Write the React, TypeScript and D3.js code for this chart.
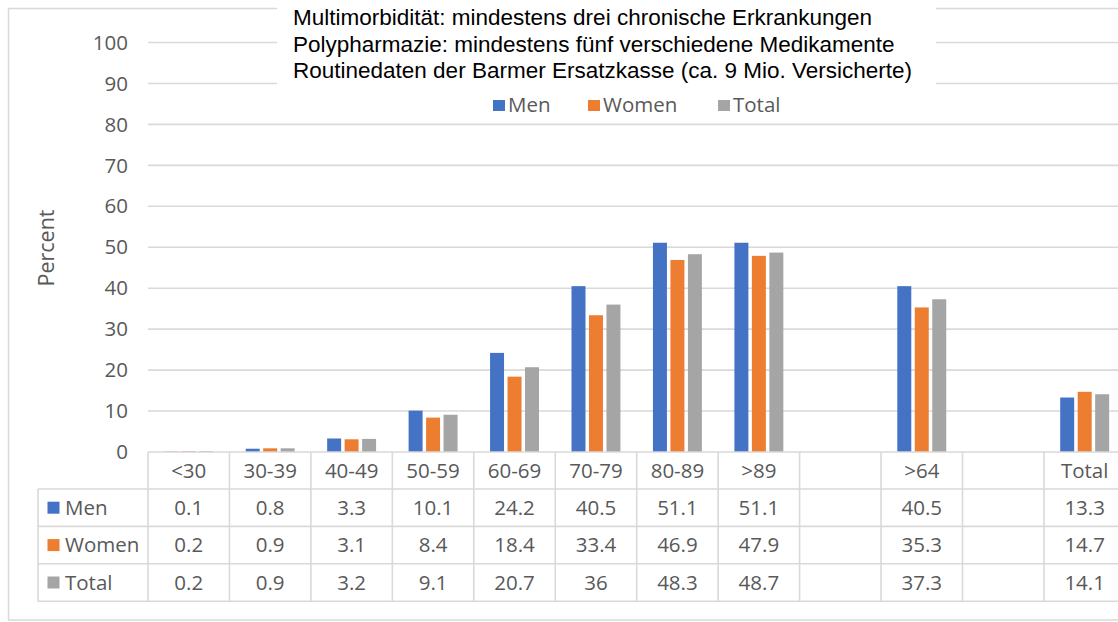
import React from 'react';
import * as d3 from 'd3';

// age groups; the two empty entries are spacer columns in the original table
const categories = ['<30', '30-39', '40-49', '50-59', '60-69', '70-79', '80-89', '>89', '', '>64', '', 'Total'];
const seriesNames = ['Men', 'Women', 'Total'];
const men = [0.1, 0.8, 3.3, 10.1, 24.2, 40.5, 51.1, 51.1, null, 40.5, null, 13.3];
const women = [0.2, 0.9, 3.1, 8.4, 18.4, 33.4, 46.9, 47.9, null, 35.3, null, 14.7];
const total = [0.2, 0.9, 3.2, 9.1, 20.7, 36, 48.3, 48.7, null, 37.3, null, 14.1];
const yTicks = [0, 10, 20, 30, 40, 50, 60, 70, 80, 90, 100];
const titleLines = [
    'Multimorbidität: mindestens drei chronische Erkrankungen',
    'Polypharmazie: mindestens fünf verschiedene Medikamente',
    'Routinedaten der Barmer Ersatzkasse (ca. 9 Mio. Versicherte)'
];

const W = 1118;
const H = 622;
const colors = ['#4472C4', '#ED7D31', '#A5A5A5'];
const gridColor = '#d9d9d9';
const textColor = '#595959';
const font = '"Open Sans", sans-serif';
const fs = 20.5;

export default function App() {
    const values = [men, women, total];

    const plotLeft = 148;
    const colW = 81.45;
    const x = d3.scaleBand<number>()
        .domain(categories.map((_, i) => i))
        .range([plotLeft, plotLeft + colW * categories.length])
        .padding(0);
    const inner = d3.scaleBand<string>()
        .domain(seriesNames)
        .range([0, x.bandwidth()])
        .paddingInner(0.2)
        .paddingOuter(0.93);
    const y = d3.scaleLinear().domain([0, 100]).range([452, 42.5]);

    const tableTop = y(0);
    const headerH = 37;
    const rowH = 37.4;
    const legendLeft = 38;
    const tableRight = plotLeft + colW * categories.length;
    const rowsTop = tableTop + headerH;
    const tableBottom = rowsTop + rowH * 3;

    const fmt = (v: number | null) => (v == null ? '' : String(v));

    // top legend item offsets
    const legendItems = [
        { x: 493, label: 'Men' },
        { x: 588, label: 'Women' },
        { x: 718, label: 'Total' }
    ];

    return (
        <svg
            width={W}
            height={H}
            style={{ position: 'absolute', left: 0, top: 0, background: '#fff' }}
        >
            <rect x={0} y={0} width={W} height={H} fill="#fff" />
            {/* outer chart frame */}
            <rect x={8.5} y={8.5} width={W + 20} height={611.5} fill="none" stroke={gridColor} strokeWidth={1.5} />

            {/* gridlines */}
            {yTicks.filter((t) => t > 0).map((t) => (
                <line key={t} x1={plotLeft} x2={W + 10} y1={y(t)} y2={y(t)} stroke={gridColor} strokeWidth={1.6} />
            ))}

            {/* y tick labels */}
            {yTicks.map((t) => (
                <text
                    key={t}
                    x={128}
                    y={y(t)}
                    dy="0.35em"
                    textAnchor="end"
                    fontFamily={font}
                    fontSize={fs}
                    fill={textColor}
                >
                    {t}
                </text>
            ))}

            <text
                transform={`translate(54,248) rotate(-90)`}
                textAnchor="middle"
                fontFamily={font}
                fontSize={21.5}
                fill={textColor}
            >
                Percent
            </text>

            {/* bars */}
            {categories.map((c, i) => (
                <g key={i} transform={`translate(${x(i)},0)`}>
                    {values.map((arr, s) => {
                        const v = arr[i];
                        if (v == null) return null;
                        return (
                            <rect
                                key={s}
                                x={inner(seriesNames[s])}
                                y={y(v)}
                                width={inner.bandwidth()}
                                height={y(0) - y(v)}
                                fill={colors[s]}
                            />
                        );
                    })}
                </g>
            ))}

            {/* data table */}
            <g stroke={gridColor} strokeWidth={1.6}>
                <line x1={plotLeft} x2={tableRight} y1={tableTop} y2={tableTop} />
                {[0, 1, 2, 3].map((r) => (
                    <line key={r} x1={legendLeft} x2={tableRight} y1={rowsTop + r * rowH} y2={rowsTop + r * rowH} />
                ))}
                <line x1={legendLeft} x2={legendLeft} y1={rowsTop} y2={tableBottom} />
                {d3.range(categories.length + 1).map((i) => (
                    <line
                        key={i}
                        x1={plotLeft + i * colW}
                        x2={plotLeft + i * colW}
                        y1={tableTop}
                        y2={tableBottom}
                    />
                ))}
            </g>
            {categories.map((c, i) => (
                <text
                    key={i}
                    x={(x(i) as number) + x.bandwidth() / 2}
                    y={tableTop + headerH / 2}
                    dy="0.35em"
                    textAnchor="middle"
                    fontFamily={font}
                    fontSize={fs}
                    fill={textColor}
                >
                    {c}
                </text>
            ))}
            {values.map((arr, s) => (
                <g key={s}>
                    <rect x={47.5} y={rowsTop + s * rowH + rowH / 2 - 6} width={12} height={12} fill={colors[s]} />
                    <text
                        x={65}
                        y={rowsTop + s * rowH + rowH / 2}
                        dy="0.35em"
                        fontFamily={font}
                        fontSize={fs}
                        fill={textColor}
                    >
                        {seriesNames[s]}
                    </text>
                    {arr.map((v, i) => (
                        <text
                            key={i}
                            x={(x(i) as number) + x.bandwidth() / 2}
                            y={rowsTop + s * rowH + rowH / 2}
                            dy="0.35em"
                            textAnchor="middle"
                            fontFamily={font}
                            fontSize={fs}
                            fill={textColor}
                        >
                            {fmt(v)}
                        </text>
                    ))}
                </g>
            ))}

            {/* title box laid over the grid */}
            <rect x={277} y={0} width={659} height={92} fill="#fff" />
            {titleLines.map((line, i) => (
                <text
                    key={i}
                    x={293}
                    y={25 + i * 26.5}
                    fontFamily='"Liberation Sans", Arial, sans-serif'
                    fontSize={22.5}
                    fill="#000"
                >
                    {line}
                </text>
            ))}

            {/* legend */}
            {legendItems.map((d, s) => (
                <g key={d.label} transform={`translate(${d.x},100)`}>
                    <rect x={0} y={0} width={12} height={11} fill={colors[s]} />
                    <text x={15} y={11.5} fontFamily={font} fontSize={fs} fill={textColor}>
                        {d.label}
                    </text>
                </g>
            ))}
        </svg>
    );
}
